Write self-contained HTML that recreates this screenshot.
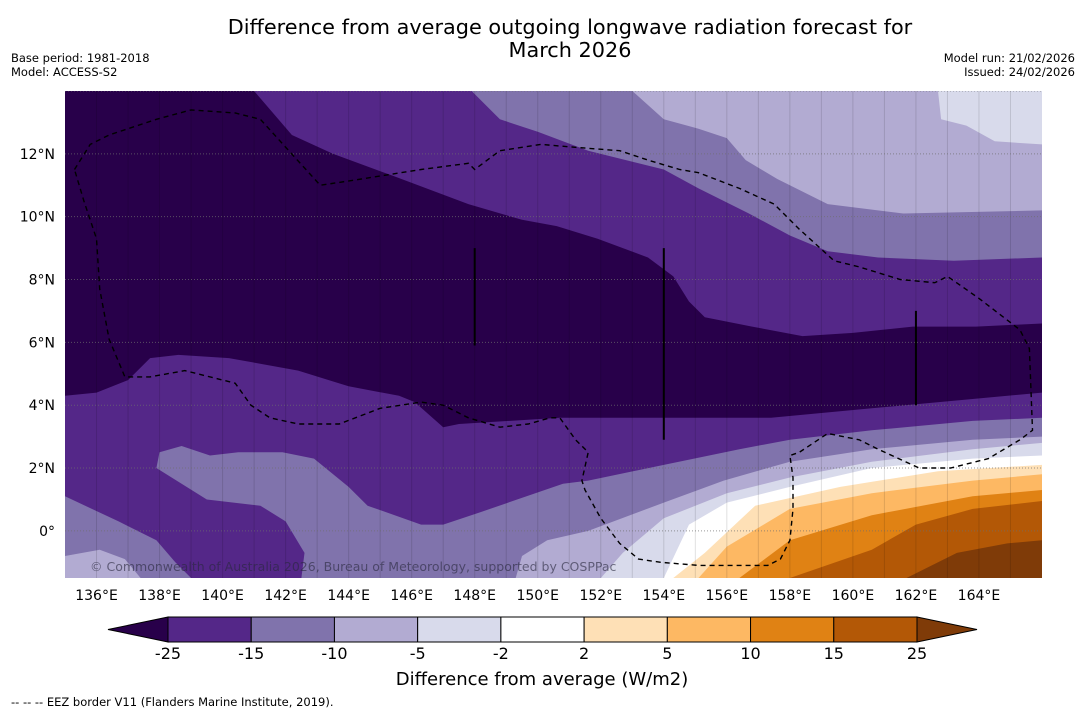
<!DOCTYPE html>
<html><head><meta charset="utf-8"><style>
body{margin:0;background:#fff;width:1085px;height:713px;overflow:hidden;font-family:"DejaVu Sans","Liberation Sans",sans-serif;}
svg text{font-family:"DejaVu Sans","Liberation Sans",sans-serif;}
</style></head><body>
<svg id="chart" width="1085" height="713" xmlns="http://www.w3.org/2000/svg">
<text x="570" y="34" font-size="20.8" text-anchor="middle">Difference from average outgoing longwave radiation forecast for</text>
<text x="570" y="57" font-size="20.8" text-anchor="middle">March 2026</text>
<text x="11" y="62" font-size="11.5">Base period: 1981-2018</text>
<text x="11" y="76" font-size="11.5">Model: ACCESS-S2</text>
<text x="1075" y="62" font-size="11.5" text-anchor="end">Model run: 21/02/2026</text>
<text x="1075" y="76" font-size="11.5" text-anchor="end">Issued: 24/02/2026</text>
<g id="map"></g>
<g id="cbar"></g>
<text x="542" y="685" font-size="18" text-anchor="middle">Difference from average (W/m2)</text>
<text x="11" y="706" font-size="11.5">--  --  -- EEZ border V11 (Flanders Marine Institute, 2019).</text>
</svg>
<script>
// ---- data (lon, lat pairs) ----
const lonRange=[135,166];
const latRange=[-1.5,14];
const lonTicks=[136,138,140,142,144,146,148,150,152,154,156,158,160,162,164];
const latTicks=[0,2,4,6,8,10,12];
const levels=[-25,-15,-10,-5,-2,2,5,10,15,25];
const bandColors=["#28004a","#542788","#8073ac","#b2abd2","#d8daeb","#ffffff","#fee0b6","#fdb863","#e08214","#b35806","#7f3b08"];
const baseColor="#542788";
const darkRegion=[[135,14],[141,14],[142.2,12.6],[143.5,12],[145.4,11.3],[147.8,10.4],[149.5,9.9],[150.6,9.7],[151.9,9.3],[153.5,8.7],[154.3,8.1],[154.8,7.3],[155.3,6.8],[156.8,6.5],[158.4,6.2],[160,6.3],[161.9,6.5],[163.9,6.5],[166,6.6],[166,4.4],[160.6,3.9],[157.4,3.6],[152.2,3.6],[150.7,3.6],[147.5,3.4],[147,3.3],[146.1,4.1],[145.6,4.3],[144,4.6],[142.4,5.1],[140.2,5.5],[138.6,5.6],[137.7,5.5],[137,4.8],[136,4.4],[135,4.3]];
const topBand15=[[147.9,14],[148.8,13.1],[150,12.7],[151.6,12.1],[154,11.5],[155.1,10.9],[156.7,10.1],[158,9.4],[159.2,8.9],[160.8,8.7],[163.2,8.6],[166,8.7],[166,14]];
const topBand10=[[153,14],[154,13.1],[155.1,12.8],[156,12.5],[156.6,11.8],[157.6,11.2],[159.2,10.4],[161.6,10.1],[166,10.2],[166,14]];
const topBand5=[[162.7,14],[162.8,13.1],[163.6,12.9],[164.5,12.4],[166,12.3],[166,14]];
const lowLeft15=[[135,1.1],[136.7,0.3],[137.9,-0.3],[138.5,-1],[139,-1.5],[135,-1.5]];
const lowLeft10=[[135,-0.8],[136.1,-0.6],[136.9,-0.9],[137.4,-1.5],[135,-1.5]];
const lowMain15=[[137.9,2],[138,2.5],[138.7,2.7],[139.6,2.4],[140.5,2.5],[141.9,2.5],[142.9,2.3],[144,1.4],[144.6,0.8],[146.3,0.2],[147,0.2],[148.2,0.6],[150.8,1.5],[151.6,1.6],[154,2.1],[156.4,2.6],[158,2.9],[160.6,3.2],[163.8,3.5],[166,3.6],[166,-1.5],[142.5,-1.5],[142.6,-0.7],[142,0.3],[141.2,0.8],[139.5,1]];
const low10=[[149.3,-1.5],[149.5,-0.8],[150.3,-0.3],[151.6,0],[154,0.9],[155.9,1.6],[158,2.2],[160.6,2.6],[163.8,2.9],[166,3.0],[166,-1.5]];
const low5=[[152,-1.5],[152.7,-0.7],[154,0.4],[156,1.2],[158,1.7],[160.6,2.2],[163.8,2.6],[166,2.8],[166,-1.5]];
const lowWhite=[[154,-1.5],[154.8,0.2],[156,0.9],[158,1.4],[160.6,2],[163.8,2.3],[166,2.4],[166,-1.5]];
const pos2=[[154.3,-1.5],[155.3,-0.7],[156.9,0.8],[159.6,1.4],[162.7,1.9],[166,2.1],[166,-1.5]];
const pos5=[[155.1,-1.5],[156,-0.5],[158,0.7],[160.6,1.2],[163.8,1.6],[166,1.8],[166,-1.5]];
const pos10=[[156.4,-1.5],[158,-0.3],[160.6,0.5],[163.8,1.1],[166,1.3],[166,-1.5]];
const pos15=[[158,-1.5],[160.6,-0.6],[162,0.2],[163.8,0.7],[166,0.95],[166,-1.5]];
const pos25=[[161.7,-1.5],[163.3,-0.7],[164.9,-0.4],[166,-0.3],[166,-1.5]];
const eez=[[135.3,11.5],[135.8,12.3],[136.4,12.6],[137.9,13.1],[139,13.4],[140.4,13.3],[141.2,13.1],[142.1,12.1],[143.1,11],[144.4,11.2],[146.3,11.5],[147.8,11.7],[148,11.5],[148.8,12.1],[150.1,12.3],[151.3,12.2],[152.6,12.1],[153.5,11.8],[154.5,11.5],[155.1,11.4],[156.4,10.9],[157.5,10.4],[158.3,9.6],[159.4,8.6],[160.2,8.4],[161.5,8],[162.6,7.9],[163,8.1],[164,7.4],[165.3,6.4],[165.6,5.8],[165.7,3.2],[165.3,2.9],[164.3,2.3],[163.1,2],[162.1,2],[160.8,2.6],[160.2,2.9],[159.2,3.1],[158.3,2.5],[158,2.4],[158.1,1.7],[158.1,0.7],[158,-0.3],[157.7,-0.9],[157.3,-1.1],[155.1,-1.1],[153.9,-1],[153.2,-0.9],[152.6,-0.4],[152,0.4],[151.5,1.3],[151.4,1.6],[151.6,2.5],[151.2,2.9],[150.7,3.6],[150.4,3.6],[149.7,3.4],[148.8,3.3],[147.8,3.6],[147,4],[146.3,4.1],[145,3.9],[143.7,3.4],[142.4,3.4],[141.5,3.6],[140.9,4],[140.4,4.7],[138.8,5.1],[137.7,4.9],[136.9,4.9],[136.4,6.1],[136.1,7.7],[136,9.3],[135.6,10.5],[135.3,11.5]];
const trackLons=[148,154,162];
const trackTop=[9.0,9.0,7.0];
const trackBot=[5.9,2.9,4.0];

// ---- layout ----
const NS="http://www.w3.org/2000/svg";
const X0=65,X1=1042,Y0=91,Y1=578;
const xs=lon=>X0+(lon-lonRange[0])/(lonRange[1]-lonRange[0])*(X1-X0);
const ys=lat=>Y1-(lat-latRange[0])/(latRange[1]-latRange[0])*(Y1-Y0);
function mk(tag,attrs,parent){const e=document.createElementNS(NS,tag);for(const k in attrs)e.setAttribute(k,attrs[k]);parent.appendChild(e);return e;}
const pts=a=>a.map(p=>xs(p[0]).toFixed(1)+","+ys(p[1]).toFixed(1)).join(" ");
const map=document.getElementById("map");
const defs=mk("defs",{},map);
const cp=mk("clipPath",{id:"clip"},defs);
mk("rect",{x:X0,y:Y0,width:X1-X0,height:Y1-Y0},cp);
const g=mk("g",{"clip-path":"url(#clip)"},map);
let r=mk("rect",{x:X0,y:Y0,width:X1-X0,height:Y1-Y0,fill:baseColor},g);


const layers=[
 [darkRegion,0,'band-below-minus25'],[topBand15,2,'band-minus15-north'],[topBand10,3,'band-minus10-north'],[topBand5,4,'band-minus5-north'],
 [lowLeft15,2,'band-minus15-southwest'],[lowMain15,2,'band-minus15-south'],[lowLeft10,3,'band-minus10-southwest'],[low10,3,'band-minus10-south'],
 [low5,4,'band-minus5-south'],[lowWhite,5,'band-neutral'],[pos2,6,'band-2-to-5'],[pos5,7,'band-5-to-10'],[pos10,8,'band-10-to-15'],[pos15,9,'band-15-to-25'],[pos25,10,'band-above-25']];
layers.forEach(l=>{const p=mk("polygon",{points:pts(l[0]),fill:bandColors[l[1]]},g);
 
 });
// gridlines
for(let lon=136;lon<=165;lon++){const ln=mk("line",{x1:xs(lon),x2:xs(lon),y1:Y0,y2:Y1,stroke:"rgba(0,0,0,0.12)","stroke-width":1},g);
 
 }
for(let lat=0;lat<=14;lat+=2){const ln=mk("line",{x1:X0,x2:X1,y1:ys(lat),y2:ys(lat),stroke:"rgba(110,110,110,0.7)","stroke-width":1,"stroke-dasharray":"1,2"},g);
 
 }
const ez=mk("polyline",{points:pts(eez),fill:"none",stroke:"#000","stroke-width":1.4,"stroke-dasharray":"5,4"},g);


trackLons.forEach((lon,i)=>{const ln=mk("line",{x1:xs(lon),x2:xs(lon),y1:ys(trackTop[i]),y2:ys(trackBot[i]),stroke:"#000","stroke-width":2},g);
 
 });
const cr=mk("text",{x:90,y:571,"font-size":12.5,fill:"rgba(40,40,60,0.6)"},g);
cr.textContent="© Commonwealth of Australia 2026, Bureau of Meteorology, supported by COSPPac";


// ticks
lonTicks.forEach(lon=>{const t=mk("text",{x:xs(lon),y:600,"font-size":14,"text-anchor":"middle"},map);t.textContent=lon+"°E";
 
 });
latTicks.forEach(lat=>{const t=mk("text",{x:55,y:ys(lat)+5,"font-size":14,"text-anchor":"end"},map);t.textContent=lat===0?"0°":lat+"°N";
 
 });
// colorbar
const cb=document.getElementById("cbar");
const CX0=168,CX1=917,CY0=617,CY1=642,CM=(CY0+CY1)/2;
const bw=(CX1-CX0)/(levels.length-1);
let tri=mk("polygon",{points:`108,${CM} ${CX0},${CY0} ${CX0},${CY1}`,fill:bandColors[0],stroke:"#000","stroke-width":1},cb);


tri=mk("polygon",{points:`977,${CM} ${CX1},${CY0} ${CX1},${CY1}`,fill:bandColors[10],stroke:"#000","stroke-width":1},cb);


for(let i=0;i<levels.length-1;i++){const b=mk("rect",{x:CX0+i*bw,y:CY0,width:bw,height:CY1-CY0,fill:bandColors[i+1],stroke:"#000","stroke-width":1},cb);
 
 }
levels.forEach((v,i)=>{const t=mk("text",{x:CX0+i*bw,y:659,"font-size":16,"text-anchor":"middle"},cb);t.textContent=v;
 
 });
</script>
</body></html>
